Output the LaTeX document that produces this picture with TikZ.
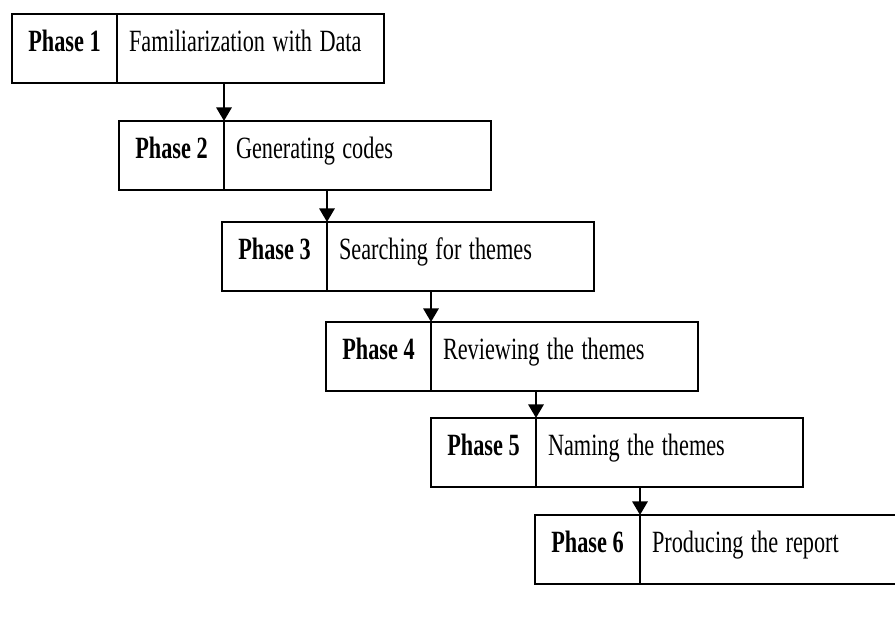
\documentclass[tikz,border=0pt]{standalone}
\usepackage{fontspec}
\setmainfont{Liberation Serif}
\usetikzlibrary{arrows.meta, positioning}
% the printed letters are narrower than Times
\newcommand{\narrow}[1]{\scalebox{0.72}[1]{#1}}

\begin{document}
\begin{tikzpicture}[
  every node/.style={font=\fontsize{22}{26}\selectfont},
  phase/.style={draw, line width=1.8pt, outer sep=0pt, minimum width=2.625cm, minimum height=1.725cm,
    inner sep=0pt, text height=0.7em, text depth=0.24em, font=\fontsize{22}{26}\selectfont\bfseries, anchor=north west},
  desc/.style={draw, line width=1.8pt, outer sep=0pt, minimum height=1.725cm, text width=6.075cm,
    inner xsep=0.3cm, inner ysep=0pt, text height=0.7em, text depth=0.24em, align=left, anchor=west},
  arr/.style={-{Triangle[width=0.38cm, length=0.34cm]}, line width=1.8pt}
]
  \clip (0,0) rectangle (22.375,15.925);

  % --- phase boxes ---
  \node[phase] (p1) at (0.30, 15.575) {\narrow{Phase 1}};
  \node[desc, right=0pt of p1] (d1) {\narrow{Familiarization with Data}};

  \node[phase] (p2) at (2.975, 12.9) {\narrow{Phase 2}};
  \node[desc, right=0pt of p2] (d2) {\narrow{Generating codes}};

  \node[phase] (p3) at (5.55, 10.375) {\narrow{Phase 3}};
  \node[desc, right=0pt of p3] (d3) {\narrow{Searching for themes}};

  \node[phase] (p4) at (8.15, 7.875) {\narrow{Phase 4}};
  \node[desc, right=0pt of p4] (d4) {\narrow{Reviewing the themes}};

  \node[phase] (p5) at (10.775, 5.475) {\narrow{Phase 5}};
  \node[desc, right=0pt of p5] (d5) {\narrow{Naming the themes}};

  \node[phase] (p6) at (13.375, 3.05) {\narrow{Phase 6}};
  \node[desc, right=0pt of p6] (d6) {\narrow{Producing the report}};

  % --- arrows down to the next phase ---
  \draw[arr] (p2.north east |- d1.south) -- (p2.north east);
  \draw[arr] (p3.north east |- d2.south) -- (p3.north east);
  \draw[arr] (p4.north east |- d3.south) -- (p4.north east);
  \draw[arr] (p5.north east |- d4.south) -- (p5.north east);
  \draw[arr] (p6.north east |- d5.south) -- (p6.north east);
\end{tikzpicture}
\end{document}
